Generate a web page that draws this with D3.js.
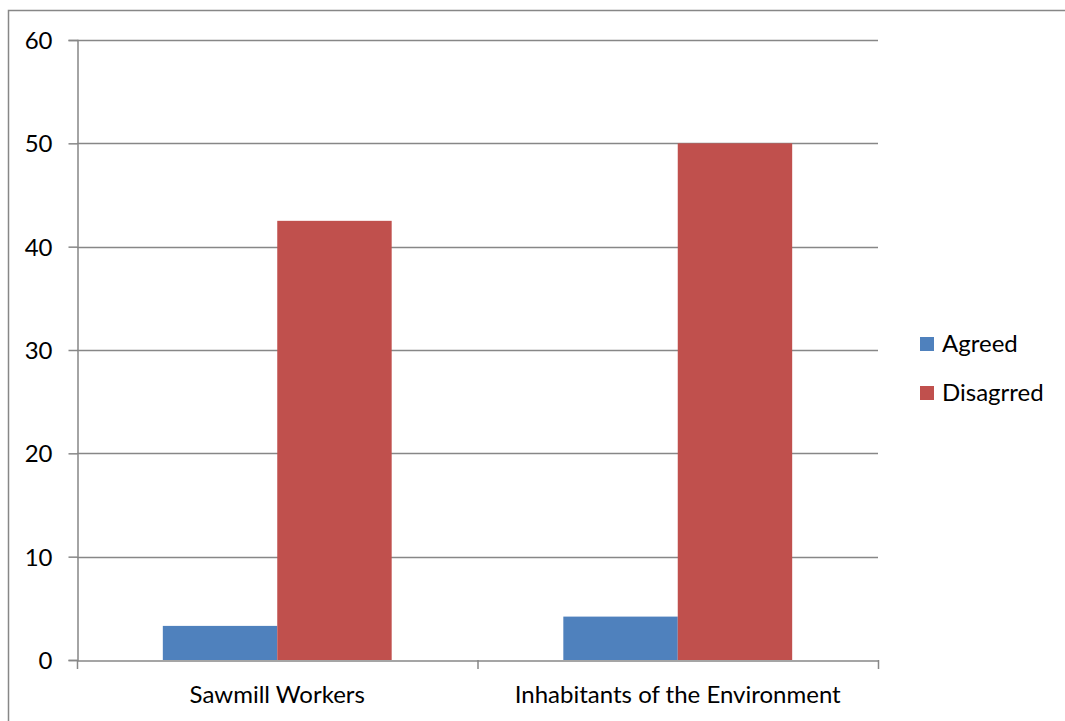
<!DOCTYPE html>
<html>
<head>
<meta charset="utf-8">
<script src="https://cdn.jsdelivr.net/npm/d3@7"></script>
<style>
  html, body { margin: 0; padding: 0; background: #fff; }
  svg { display: block; }
  text { font-family: Lato, "Liberation Sans", sans-serif; fill: #000; }
</style>
</head>
<body>
<svg id="chart" width="1065" height="721"></svg>
<script>
const categories = ["Sawmill Workers", "Inhabitants of the Environment"];
const seriesNames = ["Agreed", "Disagrred"];
const agreed = [3.3, 4.2];
const disagreed = [42.5, 50];
const yTicks = [0, 10, 20, 30, 40, 50, 60];
const colors = ["#4F81BD", "#C0504D"];

(function () {
const seriesValues = [agreed, disagreed];
const svg = d3.select("#chart");
const grid = "#878787";
const fs = "24px";

// outer frame
svg.append("rect")
  .attr("x", 8.5).attr("y", 10.5)
  .attr("width", 1100).attr("height", 800)
  .attr("fill", "none").attr("stroke", grid).attr("stroke-width", 1.5);

const pl = 77, pr = 878, pt = 40, pb = 660;
const y = d3.scaleLinear().domain([0, 60]).range([pb, pt]);
const x0 = d3.scaleBand().domain(categories).range([pl, pr]).padding(0);
const x1 = d3.scaleBand().domain(seriesNames).range([0, x0.bandwidth()])
  .paddingInner(0).paddingOuter(0.75);

// gridlines
svg.append("g").selectAll("line").data(yTicks.filter(d => d > 0)).join("line")
  .attr("x1", pl).attr("x2", pr)
  .attr("y1", d => Math.round(y(d)) + 0.5).attr("y2", d => Math.round(y(d)) + 0.5)
  .attr("stroke", grid).attr("stroke-width", 1.5);

// bars
const rows = categories.map((c, i) => ({ c, vals: seriesNames.map((s, j) => ({ s, j, v: seriesValues[j][i] })) }));
svg.append("g").selectAll("g").data(rows).join("g")
  .attr("transform", d => `translate(${x0(d.c)},0)`)
  .selectAll("rect").data(d => d.vals).join("rect")
  .attr("x", d => x1(d.s))
  .attr("width", x1.bandwidth())
  .attr("y", d => y(d.v))
  .attr("height", d => y(0) - y(d.v))
  .attr("fill", d => colors[d.j]);

// y axis
const yAxis = svg.append("g").attr("transform", `translate(${pl + 0.5},0)`)
  .call(d3.axisLeft(y).tickValues(yTicks).tickSize(9).tickPadding(16).tickFormat(d3.format("d")));
yAxis.select(".domain").attr("stroke", grid).attr("stroke-width", 1.5);
yAxis.selectAll(".tick line").attr("stroke", grid).attr("stroke-width", 1.5);
yAxis.selectAll(".tick text").style("font-size", fs).attr("dy", "0.35em");

// x axis
const xAxis = svg.append("g").attr("transform", `translate(0,${Math.round(pb) + 0.5})`)
  .call(d3.axisBottom(x0).tickSize(0).tickPadding(25));
xAxis.select(".domain").attr("stroke", grid).attr("stroke-width", 1.5);
xAxis.selectAll(".tick text").style("font-size", fs);
// category separator ticks
svg.append("g").selectAll("line").data([pl, ...categories.map(c => x0(c) + x0.bandwidth())]).join("line")
  .attr("x1", d => d + 0.5).attr("x2", d => d + 0.5)
  .attr("y1", pb).attr("y2", pb + 9)
  .attr("stroke", grid).attr("stroke-width", 1.5);

// legend
const legend = svg.append("g").selectAll("g").data(seriesNames).join("g")
  .attr("transform", (d, i) => `translate(920,${337 + i * 49})`);
legend.append("rect").attr("width", 14).attr("height", 14).attr("fill", (d, i) => colors[i]);
legend.append("text").attr("x", 22).attr("y", 7).attr("dy", "0.35em")
  .style("font-size", fs).text(d => d);
})();
</script>
</body>
</html>
